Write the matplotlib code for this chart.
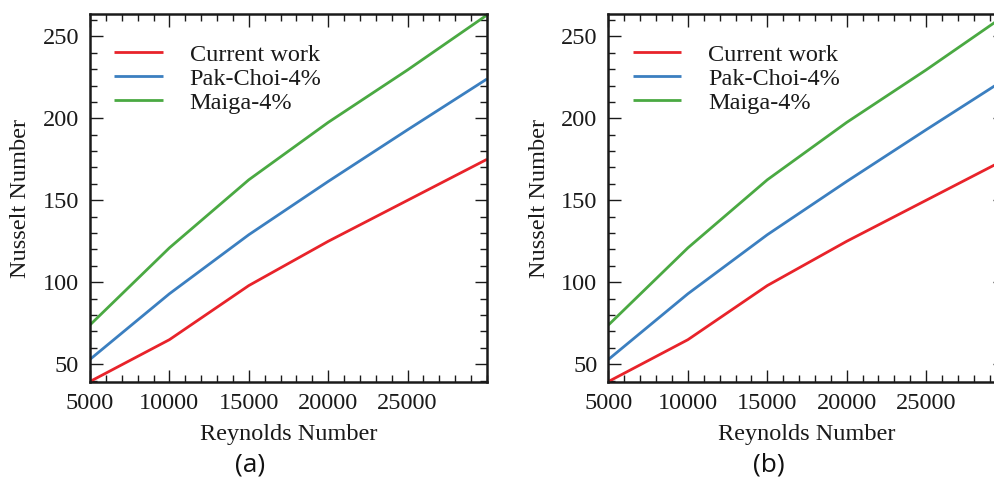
import matplotlib
matplotlib.use("Agg")
import matplotlib.pyplot as plt
from matplotlib.ticker import MultipleLocator

# Reynolds number sweep and Nusselt number results
reynolds = [5000, 10000, 15000, 20000, 25000, 30000]
nu_current = [39.5, 65, 98, 125, 150, 175]
nu_pak_choi = [53, 93, 129, 161.5, 193, 224]
nu_maiga = [74, 121, 162.5, 197.5, 229.5, 263]

series_labels = ["Current work", "Pak-Choi-4%", "Maiga-4%"]
series_colors = ["#e8232a", "#3b7fc0", "#4aa942"]

x_ticks = [5000, 10000, 15000, 20000, 25000]
y_ticks = [50, 100, 150, 200, 250]
panel_tags = ["(a)", "(b)"]

plt.rcParams["font.family"] = ["Liberation Serif", "DejaVu Serif"]

fig = plt.figure(figsize=(9.95, 4.8), dpi=100)
W, H = 995, 480
ax_w, ax_h = 397, 368
panel_left = [90, 608.5]
ax_top = 14
ink = "#1a1a1a"

for left, tag in zip(panel_left, panel_tags):
    ax = fig.add_axes([left / W, (H - ax_top - ax_h) / H, ax_w / W, ax_h / H])
    for vals, lab, col in zip([nu_current, nu_pak_choi, nu_maiga], series_labels, series_colors):
        ax.plot(reynolds, vals, color=col, lw=2.0, label=lab, solid_capstyle="butt")
    ax.set_xlim(5000, 30000)
    ax.set_ylim(39.2, 263.6)
    ax.set_xticks(x_ticks)
    ax.set_yticks(y_ticks)
    ax.xaxis.set_minor_locator(MultipleLocator(1000))
    ax.yaxis.set_minor_locator(MultipleLocator(10))
    ax.tick_params(which="both", direction="in", top=True, right=True,
                   labelsize=17.5, colors=ink, width=1.0)
    ax.tick_params(which="major", length=9, pad=8)
    ax.tick_params(which="minor", length=5)
    for sp in ax.spines.values():
        sp.set_linewidth(1.8)
        sp.set_color(ink)
    ax.set_xlabel("Reynolds Number", fontsize=17.5, color=ink, labelpad=7)
    ax.set_ylabel("Nusselt Number", fontsize=17.5, color=ink, labelpad=8)
    leg = ax.legend(loc="upper left", bbox_to_anchor=(0.0, 0.985), frameon=False,
                    fontsize=17.5, handlelength=2.0, handletextpad=1.1,
                    labelspacing=0.08, borderaxespad=0.6, borderpad=0.4)
    for t in leg.get_texts():
        t.set_color(ink)
    fig.text((left + ax_w / 2 - 38) / W, 1 - 465 / H, tag, ha="center", va="center",
             fontsize=19, family=["Open Sans", "DejaVu Sans"], color="#111111")

fig.savefig("out.png", dpi=100)
